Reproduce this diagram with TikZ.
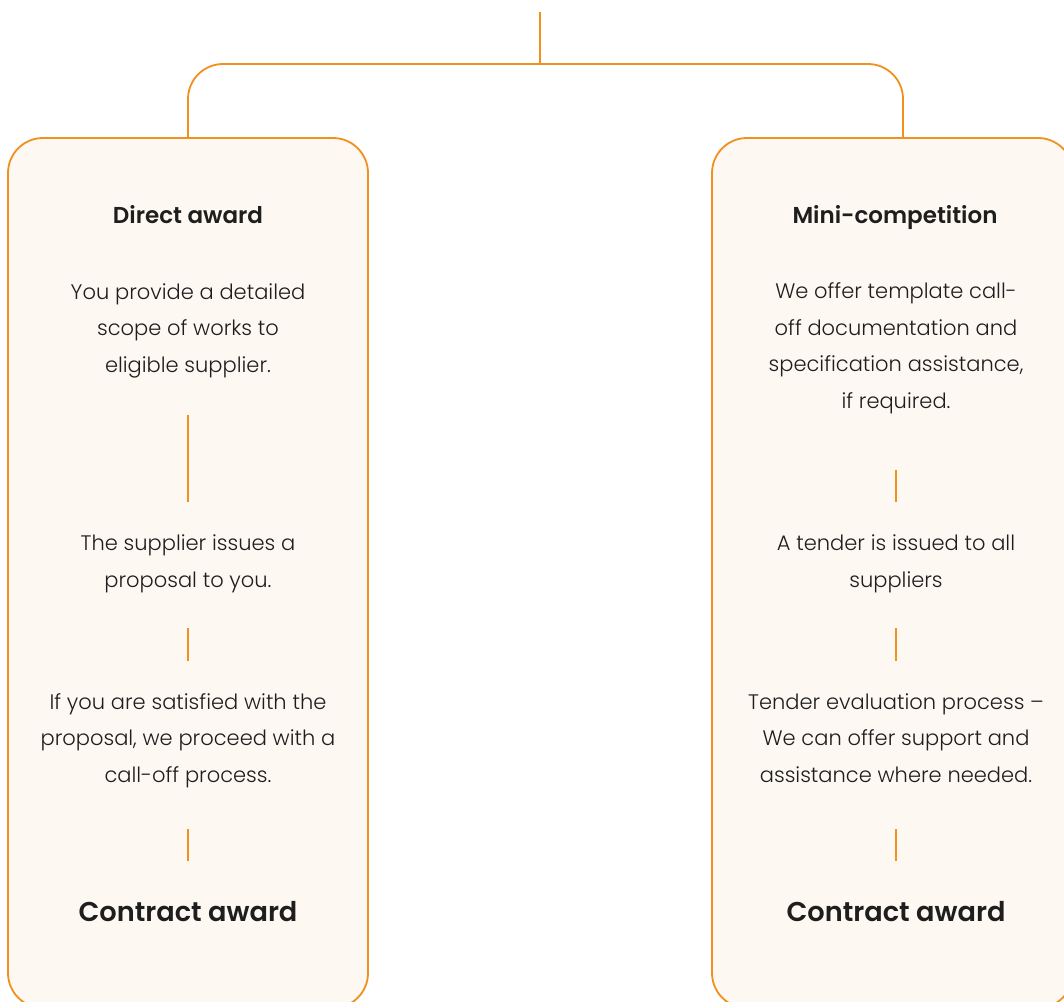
\documentclass[tikz,border=0pt]{standalone}
\usepackage{fontspec}
\setmainfont{Poppins}[UprightFont=* Light, BoldFont=* SemiBold]
\definecolor{brand}{HTML}{F0901E}
\definecolor{boxfill}{HTML}{FDF8F2}
\definecolor{ink}{HTML}{1E1E1E}
\begin{document}
\begin{tikzpicture}[x=1pt,y=-1pt,
  panel/.style={draw=brand,fill=boxfill,line width=1.8pt,rounded corners=35pt},
  link/.style={draw=brand,line width=1.8pt},
  sep/.style={draw=brand,line width=1.8pt},
  head/.style={anchor=base,inner sep=0pt,text=ink,font={\fontsize{23}{36.5}\selectfont\bfseries}},
  body/.style={anchor=base,inner sep=0pt,align=center,text=ink,font={\fontsize{21}{36.5}\selectfont}},
  final/.style={anchor=base,inner sep=0pt,text=ink,font={\fontsize{27.2}{32}\selectfont\bfseries}}]
\useasboundingbox (0,0) rectangle (1064,1001);
\clip (0,0) rectangle (1064,1001);
\fill[white] (0,0) rectangle (1064,1001);
% panels
\path[panel] (8,138) rectangle (368,1008);
\path[panel] (712,138) rectangle (1073,1008);
\coordinate (topin) at (540,12);
\coordinate (join) at (540,64);
\coordinate (lt) at (188,138);
\coordinate (rt) at (903,138);
\draw[link] (topin) -- (join);
\draw[link,rounded corners=35pt] (lt) -- (188,64) -- (903,64) -- (rt);
% left column (anchor = baseline of last line)
\node[head] (dh) at (188,223) {Direct award};
\node[body] (d1) at (188,372) {You provide a detailed\\scope of works to\\eligible supplier.};
\node[body] (d2) at (188,587) {The supplier issues a\\proposal to you.};
\node[body] (d3) at (188,782) {If you are satisfied with the\\proposal, we proceed with a\\call-off process.};
\node[final] (dc) at (188,921) {Contract award};
\coordinate (ds1a) at (188,415); \coordinate (ds1b) at (188,502);
\coordinate (ds2a) at (188,628); \coordinate (ds2b) at (188,661);
\coordinate (ds3a) at (188,829); \coordinate (ds3b) at (188,861);
\draw[sep] (ds1a) -- (ds1b);
\draw[sep] (ds2a) -- (ds2b);
\draw[sep] (ds3a) -- (ds3b);
% right column
\node[head] (mh) at (895,223) {Mini-competition};
\node[body] (m1) at (896,408) {We offer template call-\\off documentation and\\specification assistance,\\if required.};
\node[body] (m2) at (896,587) {A tender is issued to all\\suppliers};
\node[body] (m3) at (896,782) {Tender evaluation process –\\We can offer support and\\assistance where needed.};
\node[final] (mc) at (896,921) {Contract award};
\coordinate (ms1a) at (896,470); \coordinate (ms1b) at (896,502);
\coordinate (ms2a) at (896,628); \coordinate (ms2b) at (896,661);
\coordinate (ms3a) at (896,829); \coordinate (ms3b) at (896,861);
\draw[sep] (ms1a) -- (ms1b);
\draw[sep] (ms2a) -- (ms2b);
\draw[sep] (ms3a) -- (ms3b);
\end{tikzpicture}
\end{document}
